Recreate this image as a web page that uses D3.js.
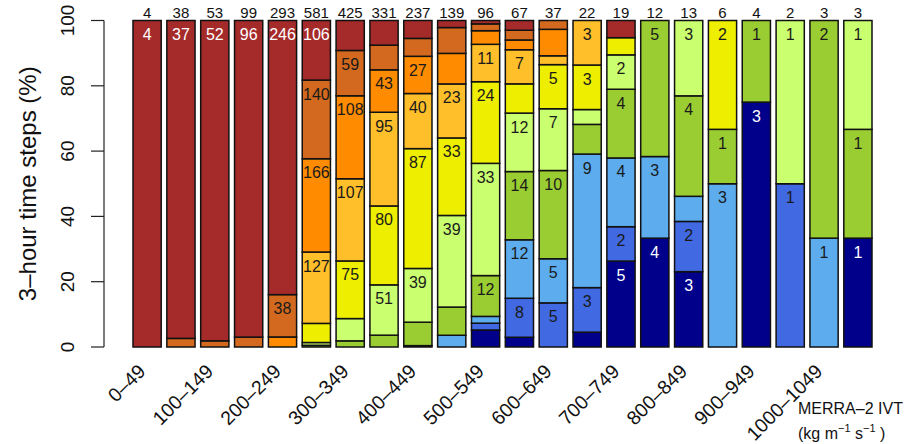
<!DOCTYPE html>
<html>
<head>
<meta charset="utf-8">
<script src="https://cdn.jsdelivr.net/npm/d3@7"></script>
<style>
  html, body { margin: 0; padding: 0; background: #fff; }
  svg { display: block; font-family: "Liberation Sans", Arial, Helvetica, sans-serif; }
</style>
</head>
<body>
<svg id="chart" width="922" height="444"></svg>
<script>
// IVT bins (kg m-1 s-1), 50-wide
const bins = ["0–49","50–99","100–149","150–199","200–249","250–299","300–349","350–399",
  "400–449","450–499","500–549","550–599","600–649","650–699","700–749","750–799",
  "800–849","850–899","900–949","950–999","1000–1049","1050–1099"];

// counts of 3-hour time steps per class, bottom of the stack first
const navy        = [0,0,0,0,0,0,0,0,1,0,5,2,0,1,5,4,3,0,3,0,0,1];
const royalblue   = [0,0,0,0,0,0,0,0,0,0,2,8,5,3,2,0,2,0,0,1,0,0];
const skyblue     = [0,0,0,0,0,0,0,0,0,5,2,12,5,9,4,3,1,3,0,0,1,0];
const yellowgreen = [0,0,0,0,0,3,8,12,17,12,12,14,10,2,4,5,4,1,1,0,2,1];
const lightgreen  = [0,0,0,0,0,5,29,51,39,39,33,12,7,1,2,0,3,0,0,1,0,1];
const yellow      = [0,0,0,0,0,34,75,80,87,33,24,6,5,3,1,0,0,2,0,0,0,0];
const gold        = [0,0,0,0,0,127,107,95,40,23,11,7,1,3,0,0,0,0,0,0,0,0];
const orange      = [0,0,0,0,9,166,108,43,27,13,4,2,3,0,0,0,0,0,0,0,0,0];
const chocolate   = [0,1,1,3,38,140,59,25,13,11,2,2,1,0,0,0,0,0,0,0,0,0];
const brown       = [4,37,52,96,246,106,39,25,13,3,1,2,0,0,1,0,0,0,0,0,0,0];

const seriesNames = ["navy","royalblue","skyblue","yellowgreen","lightgreen","yellow","gold","orange","chocolate","brown"];
const seriesValues = [navy, royalblue, skyblue, yellowgreen, lightgreen, yellow, gold, orange, chocolate, brown];
const seriesColors = ["#00008B","#4169E1","#5CACEE","#9ACD32","#CAFF70","#EEEE00","#FFBF2A","#FF8C00","#D2691E","#A52A2A"];
const whiteText = new Set(["navy","brown"]);

const yTicks = [0,20,40,60,80,100];
const xLabelEvery = 2;

// table for the stack layout
const rows = bins.map((b, i) => {
  const r = { bin: b };
  seriesNames.forEach((k, j) => r[k] = seriesValues[j][i]);
  r.total = seriesNames.reduce((s, k) => s + r[k], 0);
  return r;
});

const stack = d3.stack().keys(seriesNames).offset(d3.stackOffsetExpand);
const layers = stack(rows);

const svg = d3.select("#chart");
const x = d3.scaleBand().domain(bins).range([133, 872]).paddingInner(1/6).paddingOuter(0);
const y = d3.scaleLinear().domain([0, 1]).range([347, 20.5]);
const yPct = d3.scaleLinear().domain([0, 100]).range([347, 20.5]);

// stacked segments
const g = svg.append("g");
layers.forEach((layer, li) => {
  g.selectAll(null).data(layer.filter(d => d[1] - d[0] > 0)).enter()
    .append("rect")
    .attr("x", d => x(d.data.bin))
    .attr("width", x.bandwidth())
    .attr("y", d => y(d[1]))
    .attr("height", d => y(d[0]) - y(d[1]))
    .attr("fill", seriesColors[li])
    .attr("stroke", "#111")
    .attr("stroke-width", 1.5);
});

// counts inside segments that hold at least a tenth of the bar
layers.forEach((layer, li) => {
  const key = seriesNames[li];
  g.selectAll(null).data(layer.filter(d => d[1] - d[0] >= 0.1)).enter()
    .append("text")
    .attr("x", d => x(d.data.bin) + x.bandwidth() / 2)
    .attr("y", d => y(d[1]) + 19.5)
    .attr("text-anchor", "middle")
    .attr("font-size", 16)
    .attr("fill", whiteText.has(key) ? "#fff" : "#1a1a1a")
    .text(d => d.data[key]);
});

// totals above bars
svg.append("g").selectAll("text").data(rows).enter()
  .append("text")
  .attr("x", d => x(d.bin) + x.bandwidth() / 2)
  .attr("y", 18)
  .attr("text-anchor", "middle")
  .attr("font-size", 15)
  .attr("fill", "#111")
  .text(d => d.total);

// y axis
const yAxis = d3.axisLeft(yPct).tickValues(yTicks).tickSize(12).tickPadding(0).tickFormat(d3.format("d"));
const ya = svg.append("g").attr("transform", "translate(104,0)").call(yAxis);
ya.select(".domain").attr("d", `M0,${yPct(0)}V${yPct(100)}`).attr("stroke", "#222").attr("stroke-width", 1.2);
ya.selectAll(".tick line").attr("stroke", "#222").attr("stroke-width", 1.2);
ya.selectAll(".tick text")
  .attr("font-size", 19)
  .attr("fill", "#111")
  .attr("text-anchor", "middle")
  .attr("transform", d => `translate(-37,${yPct(d)}) rotate(-90)`)
  .attr("x", 0).attr("y", 0).attr("dy", "0.35em");
ya.selectAll(".tick").attr("transform", "translate(0,0)");
ya.selectAll(".tick line").attr("y1", d => yPct(d)).attr("y2", d => yPct(d)).attr("x2", -13);

svg.append("text")
  .attr("transform", `translate(28,${(yPct(0) + yPct(100)) / 2}) rotate(-90)`)
  .attr("text-anchor", "middle")
  .attr("dy", "0.35em")
  .attr("font-size", 24)
  .attr("fill", "#111")
  .text("3–hour time steps (%)");

// x labels, every other bin, slanted
svg.append("g").selectAll("text")
  .data(bins.filter((b, i) => i % xLabelEvery === 0)).enter()
  .append("text")
  .attr("transform", d => `translate(${x(d) + x.bandwidth() / 2 - 10},${363}) rotate(-45)`)
  .attr("text-anchor", "end")
  .attr("dy", "0.7em")
  .attr("font-size", 19.5)
  .attr("fill", "#111")
  .text(d => d);

// axis unit note
const unit = svg.append("g").attr("fill", "#111");
unit.append("text").attr("x", 798).attr("y", 414).attr("font-size", 16).text("MERRA–2 IVT");
const u2 = unit.append("text").attr("x", 798).attr("y", 439).attr("font-size", 16);
u2.append("tspan").text("(kg  m");
u2.append("tspan").attr("dy", -7).attr("font-size", 11).text("−1");
u2.append("tspan").attr("dy", 7).text(" s");
u2.append("tspan").attr("dy", -7).attr("font-size", 11).text("−1");
u2.append("tspan").attr("dy", 7).text(" )");
</script>
</body>
</html>
